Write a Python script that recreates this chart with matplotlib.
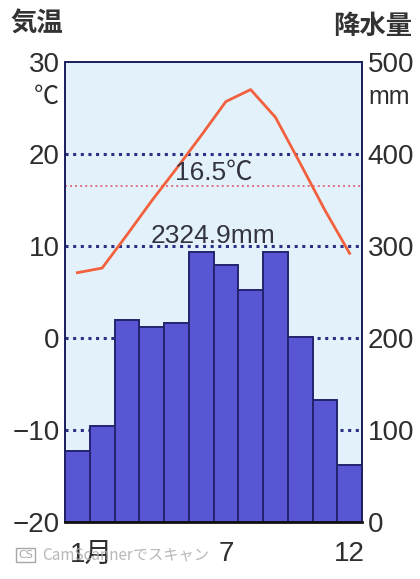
import matplotlib
matplotlib.use("Agg")
import matplotlib.pyplot as plt
import matplotlib.transforms as mtransforms

# climate data
months = list(range(1, 13))
temp = [7.1, 7.6, 11.2, 14.9, 18.4, 22.0, 25.7, 27.0, 24.0, 19.0, 13.9, 9.2]
precip = [77, 104, 220, 212, 216, 294, 279, 252, 293, 201, 133, 62]
mean_temp = 16.5
total_precip = "2324.9mm"
temp_ticks = [-20, -10, 0, 10, 20, 30]
precip_ticks = [0, 100, 200, 300, 400, 500]
x_ticks = [1, 7, 12]
x_labels = ["1月", "7", "12"]

num_font = ["Liberation Sans Narrow", "Liberation Sans", "Noto Sans CJK JP"]
plt.rcParams["font.family"] = num_font
txt_col = "#2e2e2e"

fig = plt.figure(figsize=(4.2, 5.79), dpi=100)
ax = fig.add_axes([65 / 420, 1 - 522 / 579, 297 / 420, 460 / 579])
ax.set_facecolor("#e3f2fa")
ax2 = ax.twinx()

# grid lines behind the bars
for t in [-10, 0, 10, 20]:
    ax.axhline(t, color="#2b2f86", lw=2.2, ls=(0, (1, 1.5)), zorder=1)
ax.axhline(mean_temp, color="#e07080", lw=1.4, ls=(0, (1, 1.6)), zorder=1)

ax2.bar(months, precip, width=1.0, color="#5856d2", edgecolor="#23236e",
        linewidth=1.4, zorder=2)

ax.plot(months, temp, color="#f2603e", lw=2.0, zorder=3)

ax.set_xlim(0.5, 12.5)
ax.set_ylim(-20, 30)
ax2.set_ylim(0, 500)

ax.set_yticks(temp_ticks)
ax.set_yticklabels([str(t).replace("-", "\u2212") for t in temp_ticks])
ax2.set_yticks(precip_ticks)
ax2.set_yticklabels([str(p) for p in precip_ticks])
ax.set_xticks(x_ticks)
ax.set_xticklabels(x_labels)

ax.tick_params(axis="y", length=0, pad=4, labelsize=20, labelcolor=txt_col)
ax2.tick_params(axis="y", length=0, pad=4, labelsize=20, labelcolor=txt_col)
ax.tick_params(axis="x", length=0, pad=14, labelsize=20, labelcolor=txt_col)

# "1月": the "1" sits under January, 月 hangs to the right
first = ax.get_xticklabels()[0]
first.set_ha("left")
first.set_transform(first.get_transform() +
                    mtransforms.ScaledTranslation(-7 / 100, 0, fig.dpi_scale_trans))

for a in (ax, ax2):
    for s in a.spines.values():
        s.set_color("#1e2060")
        s.set_linewidth(1.3)
ax2.spines["bottom"].set_color("#111111")
ax2.spines["bottom"].set_linewidth(2)

ax.text(0.5, 16.7, "16.5℃", ha="center", va="bottom", fontsize=19,
        color="#333344", transform=ax.get_yaxis_transform(), zorder=4)
ax.text(0.5, 9.8, total_precip, ha="center", va="bottom", fontsize=19,
        color="#333344", transform=ax.get_yaxis_transform(), zorder=4)

ax.text(-0.02, 0.925, "℃", ha="right", va="center", fontsize=18,
        color=txt_col, transform=ax.transAxes)
ax2.text(1.02, 0.925, "mm", ha="left", va="center", fontsize=18,
         color=txt_col, transform=ax2.transAxes)

cjk = ["Noto Sans CJK JP", "DejaVu Sans"]
fig.text(10 / 420, 1 - 24 / 579, "気温", ha="left", va="center", fontsize=19,
         family=cjk, weight="bold", color="#333333")
fig.text(412 / 420, 1 - 26 / 579, "降水量", ha="right", va="center", fontsize=19,
         family=cjk, weight="bold", color="#333333")

# scanner watermark (overlaps the "1月" label, as in the scan)
fig.text(18 / 420, 1 - 555 / 579, "CS", ha="left", va="center", fontsize=8,
         color="#a8a8a8", family=["DejaVu Sans"],
         bbox=dict(boxstyle="square,pad=0.15", fc="none", ec="#a8a8a8", lw=1))
fig.text(42 / 420, 1 - 555 / 579, "CamScannerでスキャン", ha="left", va="center",
         fontsize=11, color="#b0b0b0", alpha=0.9, family=cjk)

fig.savefig("out.png", dpi=100, facecolor="white")
